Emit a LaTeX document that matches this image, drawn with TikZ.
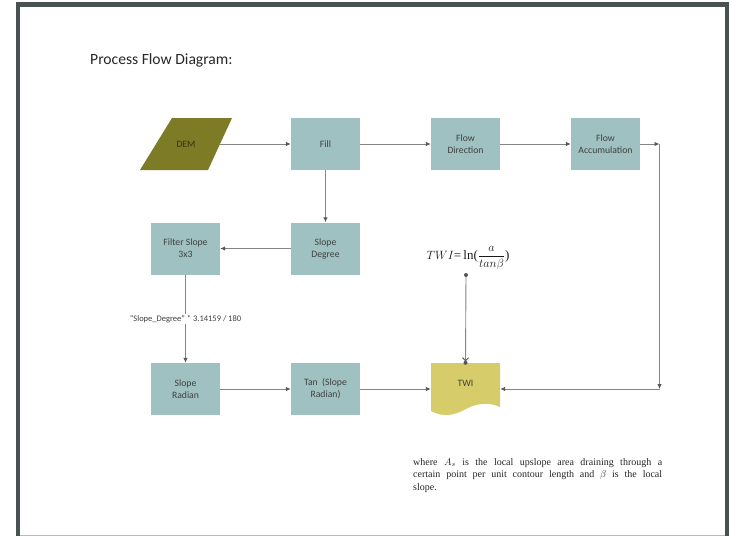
\documentclass[tikz,border=0pt]{standalone}
\usepackage{fontspec}
\setmainfont{Carlito}
\newfontfamily\descfont{Liberation Serif}
\usetikzlibrary{arrows.meta}
\definecolor{boxfill}{HTML}{9FC1C1}
\definecolor{demfill}{HTML}{7E7B26}
\definecolor{twifill}{HTML}{D6CD6A}
\definecolor{boxtext}{HTML}{404040}
\definecolor{demtext}{HTML}{33320E}
\definecolor{linecol}{HTML}{858585}
\definecolor{tipcol}{HTML}{555555}
\definecolor{framecol}{HTML}{4A5153}
\begin{document}
\begin{tikzpicture}[x=1pt,y=-1pt,
  procbox/.style={fill=boxfill, minimum width=69pt, minimum height=52pt, inner sep=1pt,
    align=center, font=\fontsize{9.7}{12}\selectfont, text=boxtext},
  flow/.style={draw=linecol, line width=0.9pt, -{Latex[length=5pt,width=4.5pt,color=tipcol]}},
  probe/.style={draw=linecol, line width=0.9pt, -{Straight Barb[length=3pt,width=6pt,color=tipcol]}},
  ]
\useasboundingbox (0,0) rectangle (731,536);
% frame
\draw[framecol, line width=4.5pt] (18,536) -- (18,4.5) -- (727,4.5) -- (727,536);
\draw[gray!55, line width=1.2pt] (20,535.5) -- (725,535.5);

% title
\node[anchor=base west, inner sep=0pt, font=\fontsize{15.6}{18}\selectfont, text=black!85] (title) at (90,64) {Process Flow Diagram:};

% DEM parallelogram
\fill[demfill] (172,118) -- (232,118) -- (208,170) -- (140,170) -- cycle;
\node[minimum width=68pt, minimum height=52pt, inner sep=0pt, font=\fontsize{9.7}{12}\selectfont, text=demtext] (dem) at (186,144) {DEM};

% process boxes
\node[procbox] (fill) at (325.5,144) {Fill};
\node[procbox] (fdir) at (465.5,144) {Flow\\Direction};
\node[procbox] (facc) at (605.5,144) {Flow\\Accumulation};
\node[procbox] (sdeg) at (325.5,248.5) {Slope\\Degree};
\node[procbox] (filt) at (185.5,248.5) {Filter Slope\\3x3};
\node[procbox] (srad) at (185.5,389) {Slope\\Radian};
\node[procbox] (tan) at (325.5,389) {Tan~~(Slope\\Radian)};

% TWI document shape
\fill[twifill] (431,363) -- (500,363) -- (500,407)
  .. controls (489,402) and (477,403) .. (466,409)
  .. controls (455,415) and (444,418) .. (431,411) -- cycle;
\node[minimum width=69pt, minimum height=52pt, inner sep=0pt] (twi) at (465.5,389) {};
\node[inner sep=0pt, font=\fontsize{9.7}{12}\selectfont, text=boxtext] (twitext) at (465.5,383) {TWI};

% formula
\node[inner sep=0pt, font=\descfont\fontsize{13}{15}\selectfont, text=black!90] (formula) at (468,258)
  {$TWI$=\,ln($\displaystyle\frac{a}{tan\beta}$)};
\coordinate (fs) at (466,275);

% description
\node[anchor=north west, inner sep=0pt, text width=249pt, align=justify,
  font=\descfont\fontsize{10}{12.5}\selectfont, text=black!85] (desc) at (413,458)
  {where $A_s$ is the local upslope area draining through a\linebreak certain point per unit contour length and $\beta$ is the local\linebreak slope.};

% corners
\coordinate (c1) at (659.5,144);
\coordinate (c2) at (659.5,389);

% connectors
\draw[flow] (dem.east) -- (fill.west);
\draw[flow] (fill.east) -- (fdir.west);
\draw[flow] (fdir.east) -- (facc.west);
\draw[flow] (facc.east) -- (c1);
\draw[flow] (c1) -- (c2);
\draw[flow] (c2) -- (twi.east);
\draw[flow] (fill.south) -- (sdeg.north);
\draw[flow] (sdeg.west) -- (filt.east);
\draw[flow] (filt.south) -- node[fill=white, inner sep=1pt, font=\fontsize{8.5}{10}\selectfont, text=boxtext] (conv) {“Slope\_Degree” * 3.14159 / 180} (srad.north);
\draw[flow] (srad.east) -- (tan.west);
\draw[flow] (tan.east) -- (twi.west);
\draw[probe, shorten >=1.5pt] (fs) -- (twi.north);
\fill[tipcol] (fs) circle (2pt);
\fill[tipcol] (twi.north) circle (2pt);
\end{tikzpicture}
\end{document}
